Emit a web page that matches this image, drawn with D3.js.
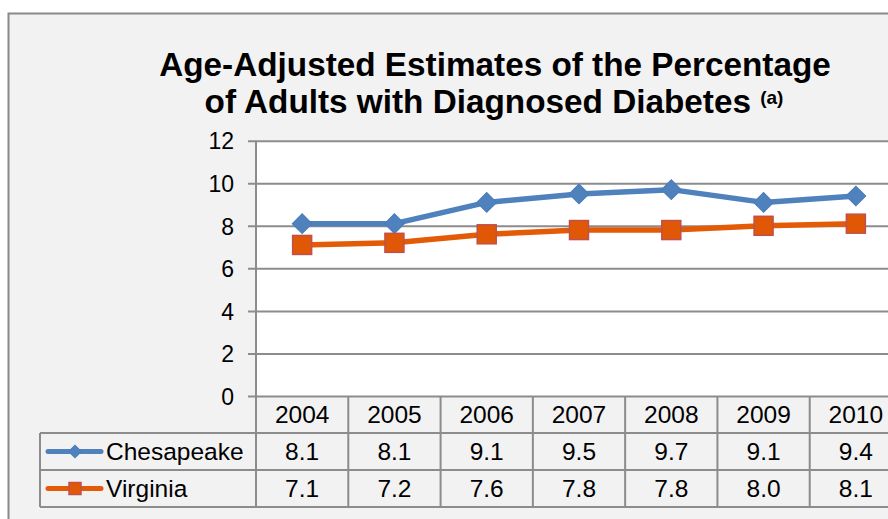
<!DOCTYPE html>
<html>
<head>
<meta charset="utf-8">
<script src="https://cdn.jsdelivr.net/npm/d3@7"></script>
<style>
  html, body { margin: 0; padding: 0; background: #ffffff; }
  svg { display: block; font-family: "Liberation Sans", Arial, sans-serif; }
</style>
</head>
<body>
<svg id="chart" width="888" height="519"></svg>
<script>
// Data
const years = ["2004", "2005", "2006", "2007", "2008", "2009", "2010"];
const chesapeake = [8.1, 8.1, 9.1, 9.5, 9.7, 9.1, 9.4];
const virginia = [7.1, 7.2, 7.6, 7.8, 7.8, 8.0, 8.1];
const seriesNames = ["Chesapeake", "Virginia"];
const yTicks = [0, 2, 4, 6, 8, 10, 12];
const titleLines = ["Age-Adjusted Estimates of the Percentage", "of Adults with Diagnosed Diabetes"];
const titleNote = "(a)";

const series = [
  { name: seriesNames[0], values: chesapeake, color: "#4f81bd", marker: "diamond", fill: "#4f81bd", stroke: "#4a7dba" },
  { name: seriesNames[1], values: virginia, color: "#e35b06", marker: "square", fill: "#e05806", stroke: "#c0504d" }
];

const svg = d3.select("#chart");
const grid = "#8c8c8c";

// Layout
const plot = { left: 256, right: 902, top: 140.7, bottom: 396 };
const rowH = 37;
const legendLeft = 40;

// Chart background
svg.append("rect")
  .attr("x", 8.5).attr("y", 13.5)
  .attr("width", 900).attr("height", 530)
  .attr("fill", "#f2f2f2")
  .attr("stroke", "#898989").attr("stroke-width", 2);

// Title
const title = svg.append("text")
  .attr("text-anchor", "middle")
  .attr("font-weight", "bold")
  .attr("font-size", 33.3)
  .attr("fill", "#000");
title.append("tspan").attr("x", 495).attr("y", 76).text(titleLines[0]);
const l2 = title.append("tspan").attr("x", 494).attr("y", 113);
l2.append("tspan").text(titleLines[1] + " ");
l2.append("tspan").attr("font-size", 19).attr("dy", -9).text(titleNote);

// Scales
const x = d3.scaleBand().domain(years).range([plot.left, plot.right]);
const y = d3.scaleLinear().domain([0, 12]).range([plot.bottom, plot.top]);

// Plot area
svg.append("rect")
  .attr("x", plot.left).attr("y", plot.top)
  .attr("width", plot.right - plot.left).attr("height", plot.bottom - plot.top)
  .attr("fill", "#ffffff");

// Gridlines with ticks
svg.append("g")
  .attr("transform", `translate(${plot.left},0)`)
  .call(d3.axisLeft(y).tickValues(yTicks).tickSize(-(plot.right - plot.left)).tickPadding(22).tickFormat(d3.format("d")))
  .call(g => g.select(".domain").remove())
  .call(g => g.selectAll(".tick line").attr("stroke", grid).attr("stroke-width", 2).attr("x1", -8))
  .call(g => g.selectAll(".tick text")
      .attr("font-size", 23).attr("fill", "#000")
      .attr("font-family", "Liberation Sans, Arial, sans-serif")
      .attr("dy", "0.36em"));

// Data table lines
const tableBottom = plot.bottom + rowH * 3;
const tbl = svg.append("g").attr("stroke", grid).attr("stroke-width", 2);
// column boundaries
const bounds = years.map(d => x(d)).concat([plot.right]);
bounds.forEach((bx, i) => {
  tbl.append("line")
    .attr("x1", bx).attr("x2", bx)
    .attr("y1", i === 0 ? plot.top : plot.bottom)
    .attr("y2", tableBottom);
});
// row boundaries
[1, 2, 3].forEach(r => {
  tbl.append("line")
    .attr("x1", legendLeft).attr("x2", plot.right)
    .attr("y1", plot.bottom + rowH * r).attr("y2", plot.bottom + rowH * r);
});
tbl.append("line")
  .attr("x1", legendLeft).attr("x2", legendLeft)
  .attr("y1", plot.bottom + rowH).attr("y2", tableBottom);

const cellFont = 24.5;

// Header row years
svg.append("g").selectAll("text").data(years).join("text")
  .attr("x", d => x(d) + x.bandwidth() / 2)
  .attr("y", plot.bottom + rowH / 2)
  .attr("dy", "0.36em")
  .attr("text-anchor", "middle")
  .attr("font-size", cellFont)
  .text(d => d);

// Marker drawing
function drawMarker(sel, s, size) {
  if (s.marker === "diamond") {
    sel.append("path")
      .attr("d", d3.symbol(d3.symbolSquare, size * size)())
      .attr("transform", "rotate(45)")
      .attr("fill", s.fill).attr("stroke", s.stroke).attr("stroke-width", 1);
  } else {
    sel.append("rect")
      .attr("x", -size / 2).attr("y", -size / 2)
      .attr("width", size).attr("height", size)
      .attr("fill", s.fill).attr("stroke", s.stroke).attr("stroke-width", 1.5);
  }
}

// Value rows and legend keys
series.forEach((s, si) => {
  const cy = plot.bottom + rowH * (si + 1) + rowH / 2;
  const row = svg.append("g");
  row.selectAll("text.val").data(s.values).join("text")
    .attr("class", "val")
    .attr("x", (d, i) => x(years[i]) + x.bandwidth() / 2)
    .attr("y", cy)
    .attr("dy", "0.36em")
    .attr("text-anchor", "middle")
    .attr("font-size", cellFont)
    .text(d => d3.format(".1f")(d));

  row.append("line")
    .attr("x1", 48).attr("x2", 101)
    .attr("y1", cy).attr("y2", cy)
    .attr("stroke", s.color).attr("stroke-width", 5).attr("stroke-linecap", "round");
  drawMarker(row.append("g").attr("transform", `translate(75,${cy})`), s, s.marker === "diamond" ? 9 : 12);

  row.append("text")
    .attr("x", 106).attr("y", cy).attr("dy", "0.36em")
    .attr("font-size", cellFont)
    .text(s.name);
});

// Lines and markers
const line = d3.line()
  .x((d, i) => x(years[i]) + x.bandwidth() / 2)
  .y(d => y(d));

series.forEach(s => {
  svg.append("path")
    .datum(s.values)
    .attr("d", line)
    .attr("fill", "none")
    .attr("stroke", s.color)
    .attr("stroke-width", 5.5)
    .attr("stroke-linejoin", "round");
});
series.forEach(s => {
  svg.append("g").selectAll("g").data(s.values).join("g")
    .attr("transform", (d, i) => `translate(${x(years[i]) + x.bandwidth() / 2},${y(d)})`)
    .each(function () { drawMarker(d3.select(this), s, s.marker === "diamond" ? 14 : 19); });
});
</script>
</body>
</html>
